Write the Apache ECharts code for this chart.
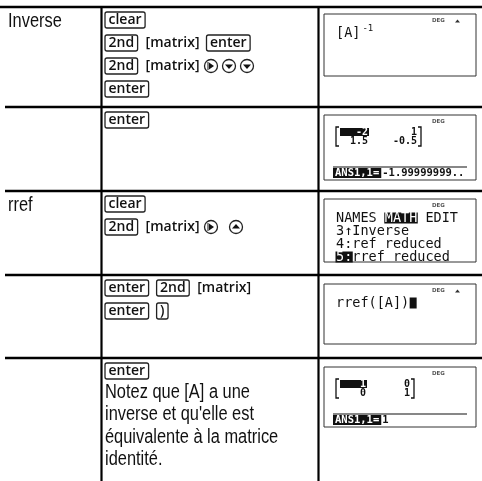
<!DOCTYPE html>
<html><head><meta charset="utf-8">
<script src="https://cdn.jsdelivr.net/npm/echarts@6/dist/echarts.min.js"></script>
<style>html,body{margin:0;padding:0;background:#fff}#c{width:482px;height:481px}</style>
</head><body><div id="c"></div>
<script>
// ---------- content ----------
const rowLabels = ['Inverse', '', 'rref', '', ''];
// key tokens: k = boxed key, m = bracketed 2nd function, a = circled arrow, s = space
const keyRows = [
  [[['k','clear']], [['k','2nd'],['m','matrix'],['k','enter']], [['k','2nd'],['m','matrix'],['a','right'],['a','down'],['a','down']], [['k','enter']]],
  [[['k','enter']]],
  [[['k','clear']], [['k','2nd'],['m','matrix'],['a','right'],['s',''],['a','up']]],
  [[['k','enter'],['k','2nd'],['m','matrix']], [['k','enter'],['k',')']]],
  [[['k','enter']]]
];
const noteLines = ['Notez que [A] a une', "inverse et qu'elle est", 'équivalente à la matrice', 'identité.'];
const screenIndicator = 'DEG';
const screenScrollUp = [true, false, false, true, false];
// text screens: segments [text, style]  n=normal h=highlight s=superscript c=cursor
const screenText = [
  [[['[A]','n'],['-1','s']]],
  null,
  [[['NAMES ','n'],['MATH','h'],[' EDIT','n']], [['3↑Inverse','n']], [['4:ref reduced','n']], [['5:','h'],['rref reduced','n']]],
  [[['rref([A])','n'],['','c']]],
  null
];
const inverseMatrix = [['-2','1'],['1.5','-0.5']];
const identityMatrix = [['1','0'],['0','1']];
const ansInverse = ['ANS1,1=', '-1.99999999..'];
const ansIdentity = ['ANS1,1=', '1'];
const screenMatrix = [null, inverseMatrix, null, null, identityMatrix];
const screenAns = [null, ansInverse, null, null, ansIdentity];

// ---------- layout ----------
const ctx = document.createElement('canvas').getContext('2d');
function tw(s, font){ ctx.font = font; return ctx.measureText(s).width; }
const narrowOK = tw('Inverse rref','20px "Liberation Sans Narrow", monospace') !== tw('Inverse rref','20px monospace');
const LABEL_FONT = narrowOK ? '20px "Liberation Sans Narrow", "Liberation Sans", sans-serif' : '20px "Liberation Sans", sans-serif';
const LABEL_SX = narrowOK ? 1 : 0.82;
const KEY_FONT = '600 14px "Open Sans", "Liberation Sans", sans-serif';
const SCR_FONT = '13.5px "DejaVu Sans Mono", monospace';
const SUP_FONT = '9px "DejaVu Sans Mono", monospace';
const ANS_FONT = 'bold 10.5px "DejaVu Sans Mono", monospace';
const MAT_FONT = 'bold 10px "DejaVu Sans Mono", monospace';

const rowTop = [7, 107, 191, 275, 358];
const colX1 = 101.5, colX2 = 318.5;
const scrTop = [14, 115, 199, 284, 367];
const scrH = [62, 65, 63, 60, 60];
const scrX = 324, scrW = 152;

const els = [];
function text(x, y, s, font, fill, opt){
  opt = opt || {};
  els.push({type:'text', x:x, y:y, scaleX: opt.sx || 1,
    style:{text:s, font:font, fill:fill, align:opt.align||'left', textAlign:opt.align||'left',
      verticalAlign:'middle', textVerticalAlign:'middle'}});
}
function line(x1,y1,x2,y2,w,c){ els.push({type:'line', shape:{x1,y1,x2,y2}, style:{stroke:c||'#000', lineWidth:w}}); }
function rect(x,y,w,h,opt){ els.push({type:'rect', shape:{x,y,width:w,height:h,r:opt.r||0}, style:{fill:opt.fill||'none', stroke:opt.stroke||null, lineWidth:opt.lw||1}}); }
function poly(pts, fill){ els.push({type:'polygon', shape:{points:pts}, style:{fill:fill}}); }

// table rules
rowTop.forEach((y,i)=> line(i===0?0:5, y, 482, y, 2.5));
line(colX1, 7, colX1, 481, 2.2);
line(colX2, 7, colX2, 481, 2.2);

// row labels
rowLabels.forEach((s,i)=>{ if(s) text(8, rowTop[i]+14.5, s, LABEL_FONT, '#111', {sx:LABEL_SX}); });

// key sequences
const KEY_H = 16, PITCH = 23;
keyRows.forEach((lines, r)=>{
  lines.forEach((toks, li)=>{
    const top = rowTop[r] + 5 + li*PITCH;
    const cy = top + KEY_H/2;
    let x = 105;
    toks.forEach((t, ti)=>{
      const prev = ti>0 ? toks[ti-1][0] : null;
      if (t[0]==='k'){
        if (ti>0) x += (prev==='m') ? 7 : 8;
        const w = tw(t[1], KEY_FONT) + 7;
        rect(x, top, w, KEY_H, {r:2, stroke:'#222', lw:1.3, fill:'#fff'});
        text(x + w/2, cy+0.5, t[1], KEY_FONT, '#111', {align:'center'});
        x += w;
      } else if (t[0]==='m'){
        if (ti>0) x += 8;
        const s = '[' + t[1] + ']';
        text(x, cy+0.5, s, KEY_FONT, '#111');
        x += tw(s, KEY_FONT);
      } else if (t[0]==='s'){
        x += 7;
      } else if (t[0]==='a'){
        x += 5;
        const R = 6.5, cx = x + R;
        els.push({type:'circle', shape:{cx:cx, cy:cy, r:R}, style:{fill:'#fff', stroke:'#222', lineWidth:1.3}});
        let pts;
        if (t[1]==='right') pts = [[cx-2,cy-3.5],[cx+3,cy],[cx-2,cy+3.5]];
        else if (t[1]==='left') pts = [[cx+2,cy-3.5],[cx-3,cy],[cx+2,cy+3.5]];
        else if (t[1]==='down') pts = [[cx-4,cy-1.5],[cx+4,cy-1.5],[cx,cy+3]];
        else pts = [[cx-4,cy+1.5],[cx+4,cy+1.5],[cx,cy-3]];
        poly(pts, '#111');
        if (t[1]==='right') line(cx-3, cy-4, cx-3, cy+4, 1, '#111');
        x += 2*R;
      }
    });
  });
});

// explanatory note in last row
noteLines.forEach((s,i)=> text(105, 392 + i*22.5, s, LABEL_FONT, '#111', {sx:LABEL_SX}));

// screens
const TX = 336;
scrTop.forEach((top, i)=>{
  rect(scrX, top, scrW, scrH[i], {stroke:'#333', lw:1, fill:'#fff'});
  text(432, top+7, screenIndicator, 'bold 5.5px "DejaVu Sans"', '#555');
  if (screenScrollUp[i]) poly([[455,top+8.5],[460,top+8.5],[457.5,top+5.5]], '#333');
  const lines = screenText[i];
  if (lines){
    lines.forEach((segs, li)=>{
      const cy = top + 19 + li*13;
      let x = TX;
      segs.forEach(seg=>{
        const [s, st] = seg;
        if (st==='h'){
          const w = tw(s, SCR_FONT);
          rect(x-0.5, cy-5.5, w+1, 11, {fill:'#111'});
          text(x, cy, s, SCR_FONT, '#fff'); x += w;
        } else if (st==='s'){
          x += 2;
          text(x, cy-4, s, SUP_FONT, '#111'); x += tw(s, SUP_FONT);
        } else if (st==='c'){
          rect(x+0.5, cy-5.5, 7, 11, {fill:'#111'}); x += 8;
        } else {
          text(x, cy, s, SCR_FONT, '#111'); x += tw(s, SCR_FONT);
        }
      });
    });
  }
  const M = screenMatrix[i];
  if (M){
    const y1 = top + 17, y2 = top + 26;
    const c1r = (i===1) ? 368 : 366, c2r = (i===1) ? 417 : 410;
    const bl = TX, br = c2r + 4;
    els.push({type:'polyline', shape:{points:[[bl+3,y1-5],[bl,y1-5],[bl,y2+5],[bl+3,y2+5]]}, style:{stroke:'#111', lineWidth:1.3, fill:null}});
    els.push({type:'polyline', shape:{points:[[br-3,y1-5],[br,y1-5],[br,y2+5],[br-3,y2+5]]}, style:{stroke:'#111', lineWidth:1.3, fill:null}});
    rect(bl+4, y1-4, c1r-bl-3, 8, {fill:'#111'});
    text(c1r, y1, M[0][0], MAT_FONT, '#fff', {align:'right'});
    text(c1r, y2, M[1][0], MAT_FONT, '#111', {align:'right'});
    text(c2r, y1, M[0][1], MAT_FONT, '#111', {align:'right'});
    text(c2r, y2, M[1][1], MAT_FONT, '#111', {align:'right'});
  }
  const A = screenAns[i];
  if (A){
    const ly = top + scrH[i] - 13, cy = top + scrH[i] - 7;
    line(TX-3, ly, scrX+scrW-9, ly, 1.2, '#111');
    const w = tw(A[0], ANS_FONT);
    rect(TX-3, cy-5, w+4, 10, {fill:'#111'});
    text(TX-1, cy, A[0], ANS_FONT, '#fff');
    text(TX-1+w+3, cy, A[1], ANS_FONT, '#111');
  }
});

const chart = echarts.init(document.getElementById('c'), null, {renderer:'canvas'});
chart.setOption({animation:false, backgroundColor:'#fff', graphic:{elements:els}});
</script>
</body></html>
